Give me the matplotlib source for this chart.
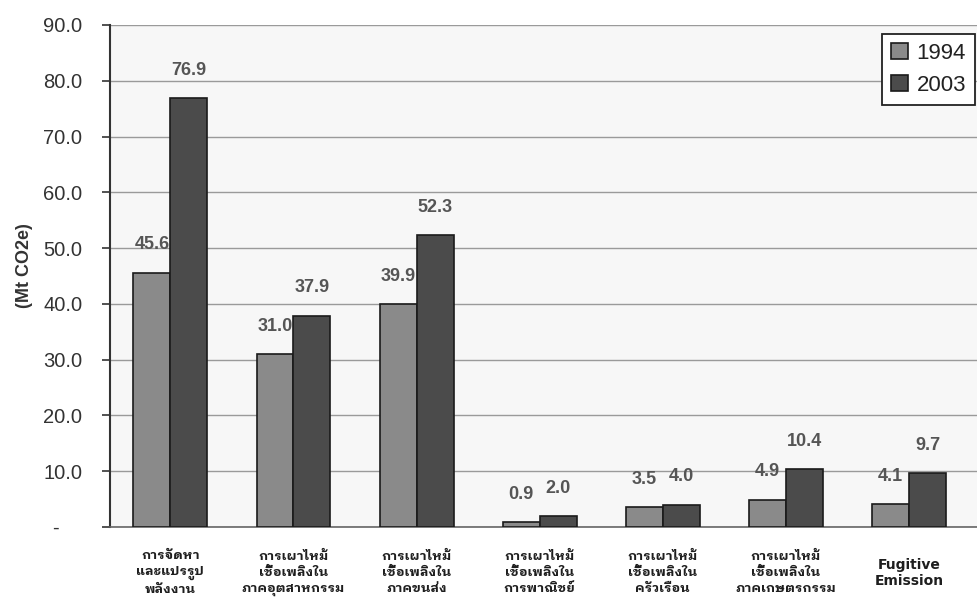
import numpy as np
import matplotlib
matplotlib.use("Agg")
import matplotlib.pyplot as plt
from matplotlib.ticker import FuncFormatter

plt.rcParams['font.family'] = ['Liberation Sans', 'DejaVu Sans']

# emission sources (Thai) and totals in Mt CO2e
categories = [
    "การจัดหา\nและแปรรูป\nพลังงาน",
    "การเผาไหม้\nเชื้อเพลิงใน\nภาคอุตสาหกรรม",
    "การเผาไหม้\nเชื้อเพลิงใน\nภาคขนส่ง",
    "การเผาไหม้\nเชื้อเพลิงใน\nการพาณิชย์",
    "การเผาไหม้\nเชื้อเพลิงใน\nครัวเรือน",
    "การเผาไหม้\nเชื้อเพลิงใน\nภาคเกษตรกรรม",
    "Fugitive\nEmission",
]
years = ["1994", "2003"]
v1994 = [45.6, 31.0, 39.9, 0.9, 3.5, 4.9, 4.1]
v2003 = [76.9, 37.9, 52.3, 2.0, 4.0, 10.4, 9.7]
yticks = [0, 10, 20, 30, 40, 50, 60, 70, 80, 90]

fig = plt.figure(figsize=(9.78, 5.99), dpi=100)
ax = fig.add_axes([110 / 978, 1 - 527 / 599, 1 - 110 / 978, (527 - 25) / 599])
ax.set_facecolor("#f7f7f7")

x = np.arange(len(categories))
w = 0.3
b1 = ax.bar(x - w / 2, v1994, w, color="#8a8a8a", edgecolor="#1a1a1a", linewidth=1.2, label=years[0], zorder=3)
b2 = ax.bar(x + w / 2, v2003, w, color="#4b4b4b", edgecolor="#1a1a1a", linewidth=1.2, label=years[1], zorder=3)

for bars, vals in ((b1, v1994), (b2, v2003)):
    for r, v in zip(bars, vals):
        ax.annotate("%.1f" % v, (r.get_x() + r.get_width() / 2, v), xytext=(0, 20),
                    textcoords="offset points", ha="center", va="center",
                    fontsize=13, fontweight="bold", color="#555555", zorder=4)

ax.set_ylim(0, 90)
ax.set_xlim(-0.49, 6.56)
ax.set_yticks(yticks)
ax.yaxis.set_major_formatter(FuncFormatter(lambda v, p: "-    " if v == 0 else "%.1f" % v))
ax.tick_params(axis="y", length=6, width=1.2, color="#333333", pad=14,
               labelsize=14.5, labelcolor="#333333")
ax.grid(axis="y", color="#9a9a9a", linewidth=1, zorder=0)

ax.set_xticks(x)
ax.set_xticklabels(categories, family=["IBM Plex Sans Thai Looped", "DejaVu Sans"],
                   fontweight="bold", fontsize=9.5, color="#1e1e1e", linespacing=1.3, va="center")
ax.tick_params(axis="x", length=0, pad=33)
# latin label in a wider bold face
lab = ax.get_xticklabels()[-1]
lab.set_family("DejaVu Sans")
lab.set_fontsize(10)
lab.set_linespacing(1.15)

ax.set_ylabel("(Mt CO2e)", fontsize=13, fontweight="bold", color="#333333")
ax.yaxis.set_label_coords(-0.089, 0.52)

for s in ("top", "right"):
    ax.spines[s].set_visible(False)
ax.spines["left"].set_color("#333333")
ax.spines["left"].set_linewidth(1.5)
ax.spines["bottom"].set_color("#666666")
ax.spines["bottom"].set_linewidth(1.2)

leg = ax.legend(loc="upper left", bbox_to_anchor=(882 / 978, 1 - 34 / 599),
                bbox_transform=fig.transFigure, fancybox=False, framealpha=1,
                edgecolor="#222222", fontsize=16, handlelength=0.75, handleheight=0.75,
                handletextpad=0.4, borderpad=0.4, labelspacing=0.5, borderaxespad=0)
leg.get_frame().set_linewidth(1.3)
for t in leg.get_texts():
    t.set_color("#222222")

fig.savefig("out.png", dpi=100)
